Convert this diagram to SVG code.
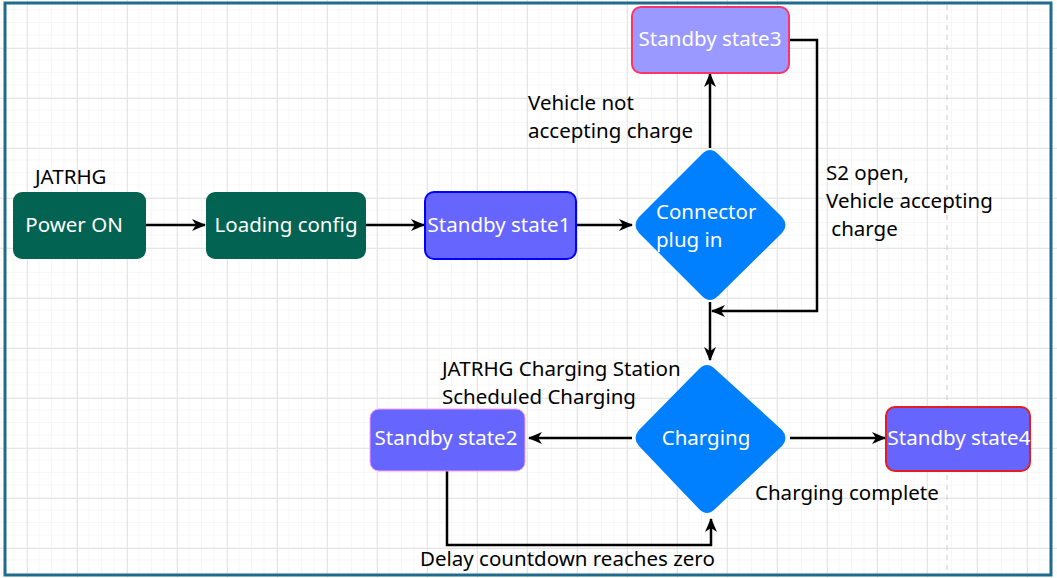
<svg xmlns="http://www.w3.org/2000/svg" width="1057" height="578" viewBox="0 0 1057 578">
<defs>
<pattern id="minor" width="12.5" height="12.5" patternUnits="userSpaceOnUse" x="2" y="-2">
<path d="M12.5 0V12.5M0 12.5H12.5" fill="none" stroke="#f0f0f0" stroke-width="1"/>
</pattern>
<pattern id="major" width="50" height="50" patternUnits="userSpaceOnUse" x="27" y="48">
<path d="M0.5 0V50M0 0.5H50" fill="none" stroke="#e6e6e6" stroke-width="1"/>
</pattern>
<marker id="arr" markerWidth="14" markerHeight="14" viewBox="0 0 14 14" refX="13" refY="7" orient="auto" markerUnits="userSpaceOnUse">
<path d="M0 1L14 7L0 13L4 7Z" fill="#000"/>
</marker>
</defs>
<style>
.t{font-family:"Noto Sans","Open Sans","DejaVu Sans",sans-serif;font-size:20.5px;fill:#000}
.w{font-family:"Noto Sans","Open Sans","DejaVu Sans",sans-serif;font-size:20.5px;fill:#fff}
.e{fill:none;stroke:#000;stroke-width:2.5;marker-end:url(#arr)}
</style>
<rect width="1057" height="578" fill="#fff"/>
<rect width="1057" height="578" fill="url(#minor)"/>
<rect width="1057" height="578" fill="url(#major)"/>
<line x1="947" y1="5" x2="947" y2="574" stroke="#cccccc" stroke-width="1" stroke-dasharray="5,5"/>
<rect x="5" y="3" width="1046" height="572" fill="none" stroke="#1f6b8c" stroke-width="3"/>

<g id="connectors">
<path class="e" d="M146 225H205"/>
<path class="e" d="M366 225H424"/>
<path class="e" d="M576 225H632"/>
<path class="e" d="M710 148V74"/>
<path class="e" d="M789 40H817V311H712"/>
<path class="e" d="M710 302V360"/>
<path class="e" d="M632 438H529"/>
<path class="e" d="M790 438H885"/>
<path class="e" d="M447 471V545H711V519"/>
</g>

<g id="labels">
<text class="t" x="35" y="184">JATRHG</text>
<text class="t" x="528" y="109.5">Vehicle not<tspan x="528" dy="28">accepting charge</tspan></text>
<text class="t" x="826" y="180" xml:space="preserve">S2 open,<tspan x="826" dy="28">Vehicle accepting</tspan><tspan x="826" dy="28"> charge</tspan></text>
<text class="t" x="442" y="375.5">JATRHG Charging Station<tspan x="442" dy="28">Scheduled Charging</tspan></text>
<text class="t" x="755" y="500">Charging complete</text>
<text class="t" x="420" y="566">Delay countdown reaches zero</text>
</g>

<g id="power-on">
<rect x="13" y="192" width="133" height="67" rx="9" fill="#036352"/>
<text class="w" x="74" y="232" text-anchor="middle">Power ON</text>
</g>
<g id="loading-config">
<rect x="206" y="192" width="160" height="67" rx="9" fill="#036352"/>
<text class="w" x="286" y="232" text-anchor="middle">Loading config</text>
</g>
<g id="standby-state1">
<rect x="425" y="192" width="151" height="67" rx="9" fill="#6666ff" stroke="#0000ff" stroke-width="2"/>
<text class="w" x="499" y="232" text-anchor="middle">Standby state1</text>
</g>
<g id="connector-plug-in">
<path d="M702 154Q710 146 718 154L782 217Q789 225 782 233L718 296Q710 304 702 296L639 233Q632 225 639 217Z" fill="#007fff"/>
<text class="w" x="656" y="218.5">Connector<tspan x="656" dy="28">plug in</tspan></text>
</g>
<g id="standby-state3">
<rect x="632" y="7" width="157" height="66" rx="9" fill="#9999ff" stroke="#ff3366" stroke-width="2"/>
<text class="w" x="710" y="46" text-anchor="middle">Standby state3</text>
</g>
<g id="charging">
<path d="M699 369Q707 361 715 369L782 430Q789 438 782 446L715 509Q707 517 699 509L639 446Q632 438 639 430Z" fill="#007fff"/>
<text class="w" x="706" y="445" text-anchor="middle">Charging</text>
</g>
<g id="standby-state2">
<rect x="370" y="409" width="155" height="62" rx="9" fill="#6666ff" stroke="#ff99ff" stroke-width="1"/>
<text class="w" x="446" y="445" text-anchor="middle">Standby state2</text>
</g>
<g id="standby-state4">
<rect x="886" y="407" width="144" height="64" rx="9" fill="#6666ff" stroke="#e51c23" stroke-width="2"/>
<text class="w" x="959" y="445" text-anchor="middle">Standby state4</text>
</g>
</svg>
